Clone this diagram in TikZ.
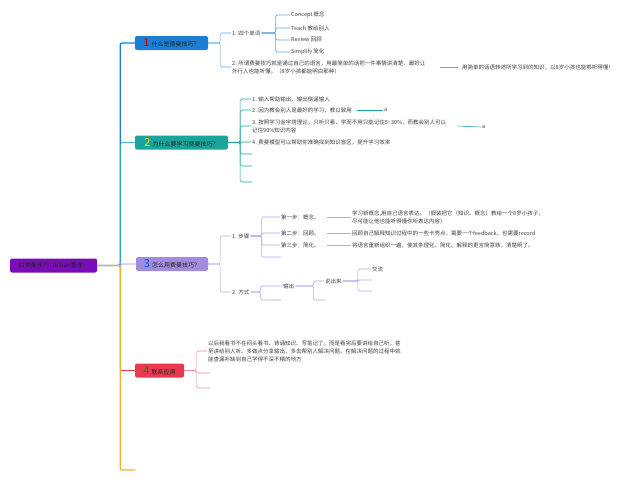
\documentclass[tikz,border=0pt]{standalone}
\usepackage{fontspec}
\setmainfont{Noto Sans CJK SC}
\usepackage{tikz}
\usetikzlibrary{positioning,calc}
\definecolor{lan}{HTML}{1A7FD4}
\definecolor{lanx}{HTML}{5FA8E3}
\definecolor{qing}{HTML}{19A59C}
\definecolor{qingx}{HTML}{3DBFC0}
\definecolor{zi3}{HTML}{A38BE0}
\definecolor{zi3x}{HTML}{B9A8EA}
\definecolor{hong}{HTML}{E8394F}
\definecolor{hongx}{HTML}{EE8C9C}
\definecolor{gen}{HTML}{7A0CB8}
\definecolor{cheng}{HTML}{F0B02E}
\newcommand{\haozi}{\fontsize{11}{11}\selectfont}
\tikzset{
  kuang/.style={rounded corners=2pt,minimum height=14pt,inner ysep=0pt,inner xsep=3pt,
    font=\fontsize{6}{7}\selectfont,text=black!85},
  ye/.style={anchor=west,inner sep=1pt,align=left,font=\fontsize{5.5}{8}\selectfont,text=black!75},
  xian/.style={line width=0.55pt,rounded corners=1.5pt},
  gan/.style={line width=1.3pt,rounded corners=2pt},
  zhi/.style={line width=0.8pt,rounded corners=2pt},
}

\begin{document}
\begin{tikzpicture}[x=1pt,y=-1pt]
  \useasboundingbox[fill=white] (0,0) rectangle (640,483);

  % root and main boxes
  \node[kuang,fill=gen,minimum width=87pt] (gen) at (53.5,265.5) {01费曼技巧（ETian整理）};
  \node[kuang,fill=lan,minimum width=73pt] (b1) at (171.5,43)
    {{\color{red!75!black}\haozi 1}\, 什么是费曼技巧？};
  \node[kuang,fill=qing,minimum width=93pt] (b2) at (181.5,142.5)
    {{\color{yellow!85!orange}\haozi 2}\, 为什么要学习费曼技巧？};
  \node[kuang,fill=zi3,minimum width=72pt] (b3) at (172,264)
    {{\color{blue!70!cyan}\haozi 3}\, 怎么用费曼技巧？};
  \node[kuang,fill=hong,minimum width=49pt] (b4) at (159.5,370.5)
    {{\color{green!60!black}\haozi 4}\, 联系应用};
  \coordinate (b5) at (135,470);

  \draw[gan,lan] (gen.east) -- ++(23,0) |- (b1.west);
  \draw[zhi,qingx] (gen.east) -- ++(23.6,0) |- (b2.west);
  \draw[zhi,zi3] (gen.east) -- ++(23,0) |- (b3.west);
  \draw[zhi,hong] (gen.east) -- ++(23,0) |- (b4.west);
  \draw[gan,cheng] (gen.east) -- ++(23,0) |- (b5);

  % 1
  \node[ye] (c11) at (231,33) {1. 四个单词};
  \node[ye] (c12) at (231,67) {2. 所谓费曼技巧就是通过自己的语言，用最简单的话把一件事情讲清楚，最好让\\外行人也能听懂。（8岁小孩都能明白那种）};
  \node[ye] (w1) at (290,15) {Concept 概念};
  \node[ye] (w2) at (290,28) {Teach 教给别人};
  \node[ye] (w3) at (290,40) {Review 回顾};
  \node[ye] (w4) at (290,52) {Simplify 简化};
  \node[ye] (c121) at (461,67) {用简单的话语转述所学习到的知识，以8岁小孩也能够听得懂！};
  \foreach \t in {c11,c12} \draw[xian,lanx] (b1.east) -- ++(12,0) |- (\t.west);
  \foreach \t in {w1,w2,w3,w4} \draw[xian,lanx] (c11.east) -- ++(14,0) |- (\t.west);
  \draw[xian,lanx] ([xshift=13pt]c12.east) -- ([xshift=-3pt]c121.west);

  % 2
  \node[ye] (c21) at (251,99) {1. 输入帮助输出，输出倒逼输入};
  \node[ye] (c22) at (251,110) {2. 因为教会别人是最好的学习，教以致用};
  \node[ye] (c23) at (251,126) {3. 按照学习金字塔理论，只听只看，学而不用只能记住5\textasciitilde30\%，而教会别人可以\\记住90\%知识内容};
  \node[ye] (c24) at (251,142) {4. 费曼模型可以帮助你准确找到知识盲区，提升学习效率};
  \coordinate (c25) at (252,154);
  \coordinate (c26) at (252,166);
  \coordinate (c27) at (252,182);
  \node[ye] (c221) at (383,110) {a};
  \node[ye] (c231) at (481,127) {a};
  \foreach \t in {c21,c22,c23,c24} \draw[xian,qing] (b2.east) -- ++(12,0) |- (\t.west);
  \foreach \t in {c25,c26,c27} \draw[xian,qing] (b2.east) -- ++(12,0) |- (\t);
  \draw[xian,qing] ([xshift=4pt]c22.east) -- (c221.west);
  \draw[xian,qing] ([xshift=10pt]c23.east) -- (c231.west);

  % 3
  \node[ye] (c31) at (231,236) {1. 步骤};
  \node[ye] (c32) at (231,292) {2. 方式};
  \foreach \t in {c31,c32} \draw[xian,zi3x] (b3.east) -- ++(12,0) |- (\t.west);
  \node[ye] (s1) at (280,217) {第一步：概念。};
  \node[ye] (s2) at (280,233) {第二步：回顾。};
  \node[ye] (s3) at (280,245) {第三步：简化。};
  \coordinate (s4) at (281,257);
  \foreach \t in {s1,s2,s3} \draw[xian,zi3x] (c31.east) -- ++(11,0) |- (\t.west);
  \draw[xian,zi3x] (c31.east) -- ++(11,0) |- (s4);
  \node[ye] (t1) at (351,217) {学习新概念,用自己语言表达。（假装把它（知识、概念）教给一个8岁小孩子，\\尽可能让他也能听得懂你所表达内容）};
  \node[ye] (t2) at (351,233) {回顾自己解释知识过程中的一些卡壳点，需要一个feedback，也需要record};
  \node[ye] (t3) at (351,245) {将语言重新组织一遍，使其条理化，简化。解释的更言简意赅，清楚明了。};
  \draw[xian,zi3x] ([xshift=6pt]s1.east) -- (t1.west);
  \draw[xian,zi3x] ([xshift=6pt]s2.east) -- (t2.west);
  \draw[xian,zi3x] ([xshift=6pt]s3.east) -- (t3.west);
  \node[ye] (f1) at (282,286) {输出};
  \coordinate (f2) at (281,300);
  \draw[xian,zi3x] (c32.east) -- ++(10,0) |- (f1.west);
  \draw[xian,zi3x] (c32.east) -- ++(10,0) |- (f2);
  \node[ye] (g1) at (324,281) {说出来};
  \coordinate (g2) at (325,300);
  \draw[xian,zi3x] (f1.east) -- ++(18,0) |- (g1.west);
  \draw[xian,zi3x] (f1.east) -- ++(18,0) |- (g2);
  \node[ye] (h1) at (371,269) {交流};
  \coordinate (h2) at (372,280);
  \coordinate (h3) at (372,291);
  \draw[xian,zi3x] (g1.east) -- ++(15,0) |- (h1.west);
  \draw[xian,zi3x] (g1.east) -- ++(15,0) |- (h2);
  \draw[xian,zi3x] (g1.east) -- ++(15,0) |- (h3);

  % 4
  \node[ye] (c41) at (207,351) {以后我看书不在闷头看书、背诵知识、写笔记了。而是看完后要讲给自己听，甚\\至讲给别人听。多做点分享输出，多去帮别人解决问题。在解决问题的过程中就\\能查漏补缺到自己学得不深不精的地方};
  \coordinate (c42) at (210,373);
  \coordinate (c43) at (210,388);
  \draw[xian,hongx] (b4.east) -- ++(12,0) |- (c41.west);
  \draw[xian,hongx] (b4.east) -- ++(12,0) |- (c42);
  \draw[xian,hongx] (b4.east) -- ++(12,0) |- (c43);
\end{tikzpicture}
\end{document}
